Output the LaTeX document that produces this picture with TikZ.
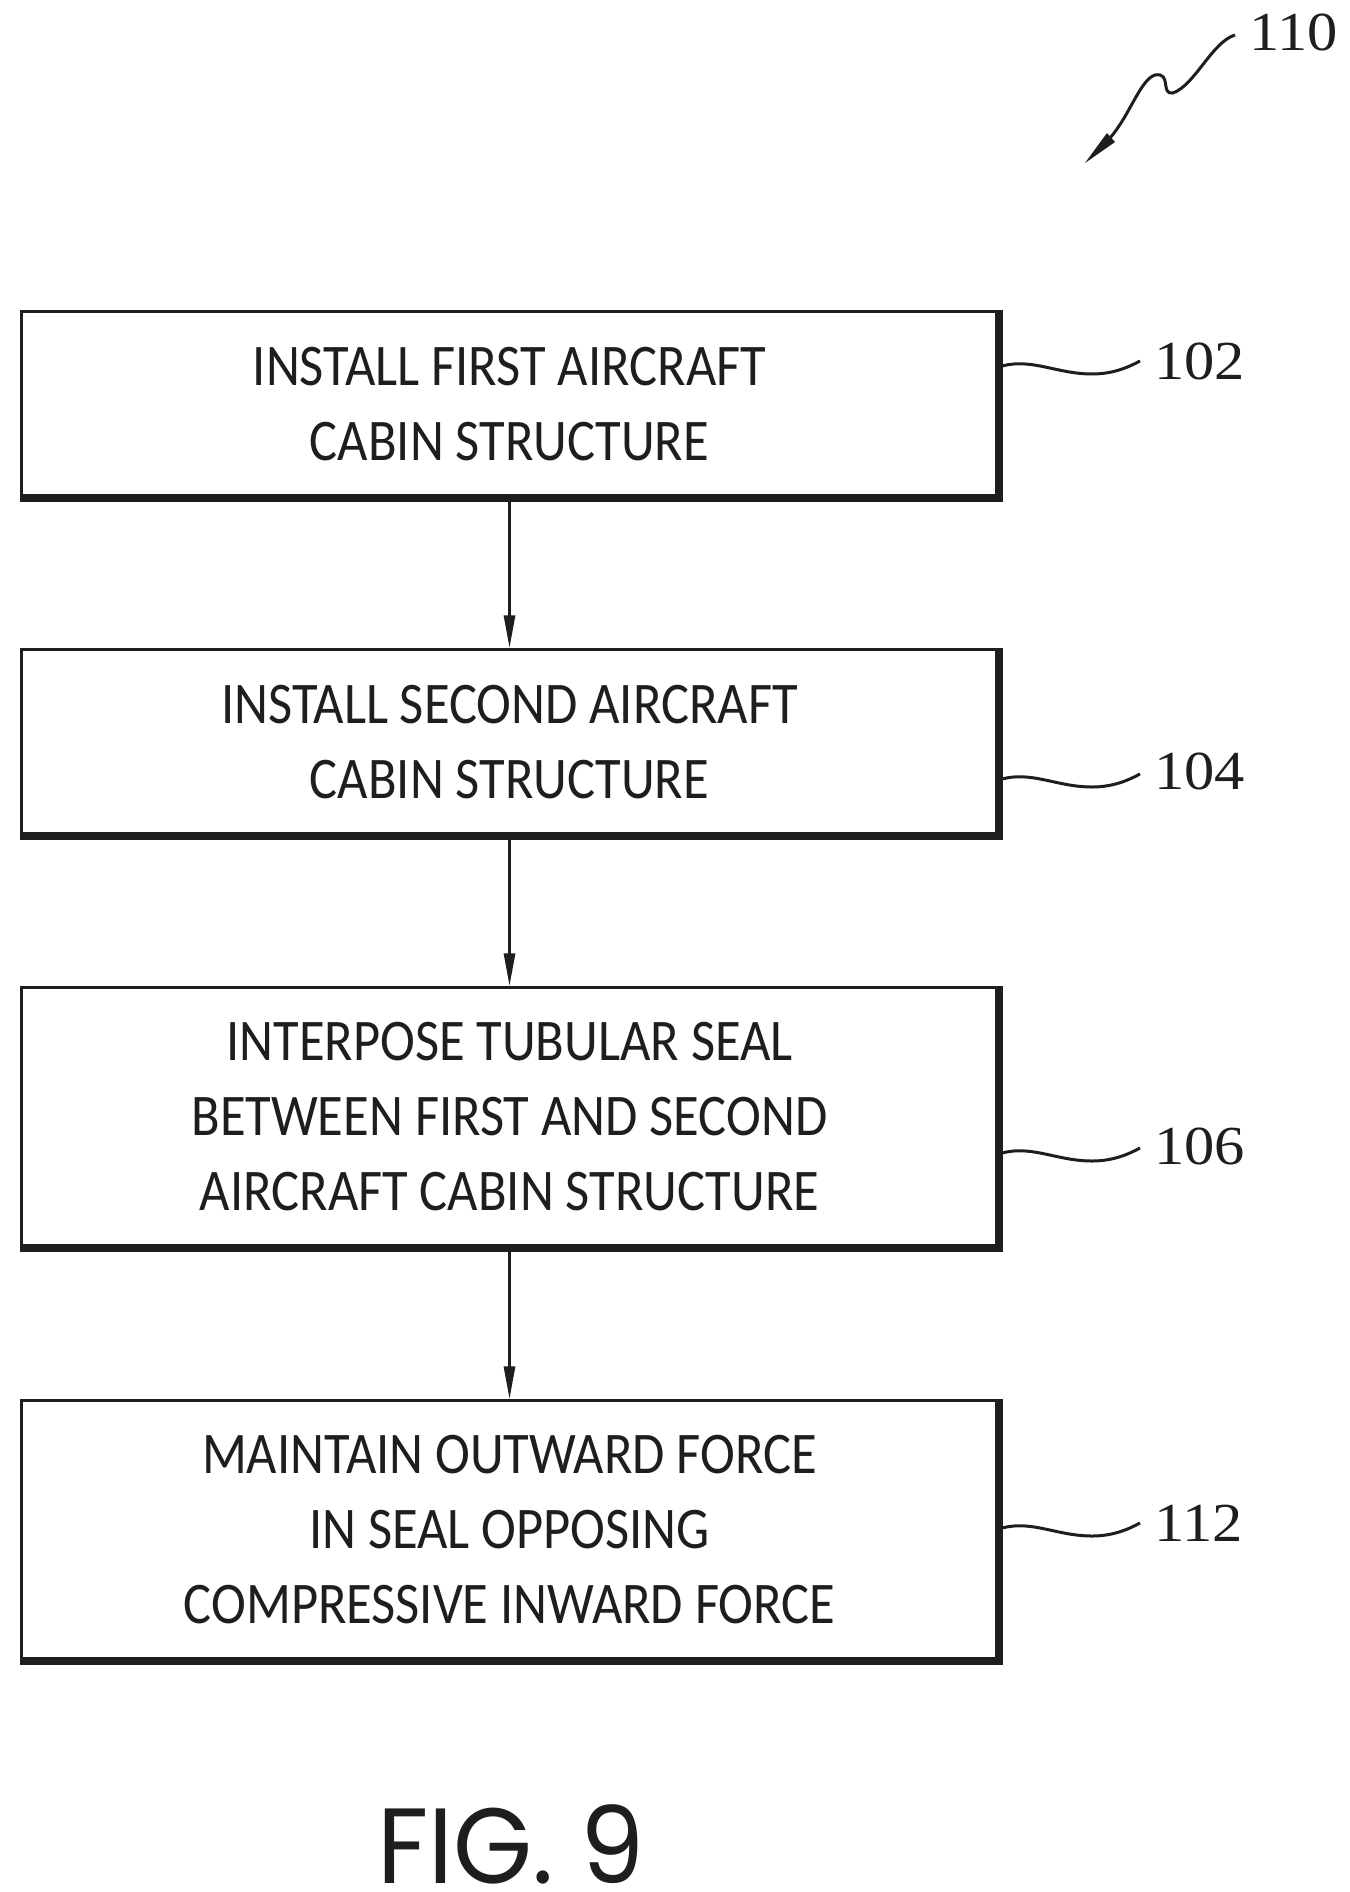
\documentclass[tikz,border=0pt]{standalone}
\usepackage{fontspec}
\usetikzlibrary{arrows.meta,calc}
\setmainfont[FakeStretch=0.89]{Carlito}
\newfontfamily\numfont[FakeStretch=1.1]{Liberation Serif}
\newfontfamily\figfont[FakeStretch=0.95]{Poppins}
\definecolor{ink}{HTML}{1E1E1E}
\tikzset{
  x=1pt,y=-1pt,
  flowbox/.style={draw=ink,line width=3pt,fill=white,text=ink,align=center,inner sep=0pt,
    minimum width=976pt,font=\fontsize{59}{75}\selectfont},
  edgeshade/.style={draw=ink,line width=8pt,line cap=butt,line join=miter},
  flowarrow/.style={draw=ink,line width=3pt,-{Triangle[length=33pt,width=11pt]}},
  leader/.style={draw=ink,line width=3pt},
  refnum/.style={text=ink,inner sep=0pt,anchor=west,font=\numfont\fontsize{55}{55}\selectfont},
}
\begin{document}
\begin{tikzpicture}
\useasboundingbox[fill=white] (0,0) rectangle (1349,1892);
\node[flowbox,minimum height=184.5pt] (b1) at (509.5,404) {INSTALL FIRST AIRCRAFT\\CABIN STRUCTURE};
\node[flowbox,minimum height=184.5pt] (b2) at (509.5,742) {INSTALL SECOND AIRCRAFT\\CABIN STRUCTURE};
\node[flowbox,minimum height=258.5pt] (b3) at (509.5,1117) {INTERPOSE TUBULAR SEAL\\BETWEEN FIRST AND SECOND\\AIRCRAFT CABIN STRUCTURE};
\node[flowbox,minimum height=258.5pt] (b4) at (509.5,1530) {MAINTAIN OUTWARD FORCE\\IN SEAL OPPOSING\\COMPRESSIVE INWARD FORCE};
\foreach \b in {b1,b2,b3,b4}{
  \draw[edgeshade] (\b.south west) -- (\b.south east) -- (\b.north east);
}
\draw[flowarrow] (b1.south) -- (b2.north);
\draw[flowarrow] (b2.south) -- (b3.north);
\draw[flowarrow] (b3.south) -- (b4.north);
\node[refnum] (n110) at (1249,32) {110};
\node[refnum] (n102) at (1154,361) {102};
\node[refnum] (n104) at (1154,771) {104};
\node[refnum] (n106) at (1154,1146) {106};
\node[refnum] (n112) at (1154,1523) {112};
\coordinate (s102) at (1002,366);
\coordinate (s104) at (1002,779);
\coordinate (s106) at (1002,1153);
\coordinate (s112) at (1002,1528);
\foreach \k in {102,104,106,112}{
  \draw[leader] (s\k) .. controls ($(s\k)+(30,-8)$) and ($(s\k)+(55,8)$) .. ($(s\k)+(90,8)$)
     .. controls ($(s\k)+(110,8)$) and ($(s\k)+(125,2)$) .. ($(s\k)+(138,-5)$);
}
\coordinate (t110) at (1235,35);
\coordinate (p110) at (1085,163);
\draw[leader] (t110) .. controls (1212,42) and (1195,85) .. (1173,93)
   .. controls (1160,95) and (1172,72) .. (1155,75)
   .. controls (1140,80) and (1130,115) .. (1110,138);
\fill[ink] (p110) -- (1107,133) -- (1115,142) -- cycle;
\node[text=ink,inner sep=0pt,font=\figfont\fontsize{107}{107}\selectfont] (fig) at (511,1844) {FIG. 9};
\end{tikzpicture}
\end{document}
